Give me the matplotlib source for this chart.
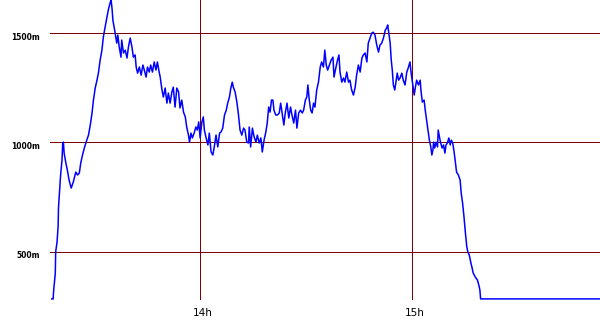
import matplotlib
matplotlib.use("Agg")
import matplotlib.pyplot as plt

# time in minutes after 13:00, elevation in metres
minutes = [18.0, 18.4, 18.5, 19.0, 19.1, 19.5, 19.8, 19.9, 20.2, 20.5, 20.9, 21.1, 21.3, 21.5,
           22.0, 22.4, 22.9, 23.5, 24.1, 24.8, 25.3, 25.8, 26.2, 26.7, 27.3, 27.9, 28.4, 28.9,
           29.4, 29.8, 30.3, 30.8, 31.2, 31.7, 32.2, 32.6, 33.1, 33.6, 34.0, 34.5, 34.8, 35.1,
           35.3, 35.7, 36.1, 36.4, 36.7, 37.1, 37.6, 37.8, 38.3, 38.8, 39.3, 39.7, 40.2, 40.7,
           41.1, 41.6, 41.9, 42.3, 42.8, 43.3, 43.8, 44.2, 44.7, 45.1, 45.6, 46.0, 46.5, 47.0,
           47.5, 47.9, 48.4, 48.7, 49.2, 49.6, 50.1, 50.6, 51.0, 51.5, 52.0, 52.4, 52.9, 53.4,
           53.9, 54.3, 54.8, 55.3, 55.8, 56.2, 56.7, 57.0, 57.4, 57.8, 58.3, 58.8, 59.2, 59.6,
           60.0, 60.5, 60.9, 61.2, 61.7, 62.2, 62.6, 63.1, 63.6, 64.0, 64.5, 65.0, 65.5, 65.9,
           66.4, 66.9, 67.4, 67.8, 68.3, 68.7, 69.1, 69.4, 69.9, 70.4, 70.8, 71.3, 71.8, 72.3,
           72.7, 73.2, 73.7, 73.9, 74.3, 74.8, 75.3, 75.8, 76.2, 76.7, 77.2, 77.6, 78.1, 78.6,
           79.0, 79.4, 79.8, 80.2, 80.6, 80.9, 81.4, 81.9, 82.4, 82.8, 83.2, 83.7, 84.1, 84.6,
           85.1, 85.6, 86.0, 86.5, 87.0, 87.4, 87.9, 88.4, 88.9, 89.3, 89.8, 90.2, 90.5, 90.9,
           91.3, 91.7, 92.1, 92.5, 93.0, 93.5, 94.0, 94.4, 94.9, 95.3, 95.7, 96.1, 96.6, 97.1,
           97.6, 97.9, 98.4, 98.9, 99.3, 99.6, 100.1, 100.6, 101.0, 101.5, 102.0, 102.4, 102.9,
           103.4, 103.9, 104.3, 104.8, 105.3, 105.8, 106.2, 106.7, 107.2, 107.6, 108.1, 108.6,
           109.0, 109.5, 110.0, 110.5, 110.9, 111.4, 111.9, 112.4, 112.8, 113.1, 113.4, 113.8,
           114.1, 114.4, 114.7, 115.1, 115.5, 115.8, 116.2, 116.6, 117.1, 117.5, 118.0, 118.5,
           118.9, 119.4, 119.7, 120.2, 120.6, 120.9, 121.3, 121.8, 122.3, 122.5, 122.9, 123.4,
           123.8, 124.2, 124.5, 124.9, 125.3, 125.6, 125.9, 126.1, 126.4, 126.8, 127.2, 127.4,
           127.8, 128.1, 128.5, 128.9, 129.3, 129.6, 130.0, 130.4, 130.8, 131.1, 131.5, 131.9,
           132.3, 132.6, 133.1, 133.6, 133.9, 134.3, 134.7, 135.1, 135.5, 135.8, 136.2, 136.6,
           137.0, 137.3, 137.9, 138.5, 138.9, 139.2, 139.4, 173.2]
elevation = [285, 285, 316, 403, 499, 545, 618, 700, 773, 851, 919, 997, 1001, 951,
             905, 874, 828, 791, 819, 864, 851, 860, 905, 942, 979, 1010, 1033, 1079,
             1134, 1193, 1248, 1284, 1316, 1376, 1421, 1481, 1526, 1568, 1604, 1636, 1650, 1604,
             1558, 1522, 1481, 1453, 1490, 1435, 1389, 1467, 1408, 1421, 1385, 1435, 1476, 1435,
             1389, 1399, 1344, 1316, 1344, 1307, 1353, 1330, 1298, 1344, 1321, 1353, 1321, 1367,
             1330, 1367, 1321, 1298, 1239, 1207, 1248, 1179, 1225, 1179, 1230, 1252, 1161, 1248,
             1230, 1157, 1193, 1138, 1116, 1070, 1033, 1001, 1042, 1020, 1042, 1070, 1056, 1093,
             1020, 1093, 1116, 1056, 1020, 988, 1042, 956, 942, 979, 1033, 979, 1042, 1047,
             1065, 1125, 1147, 1179, 1207, 1248, 1275, 1252, 1230, 1184, 1134, 1056, 1033, 1065,
             1056, 1001, 997, 1070, 979, 1065, 1024, 1001, 1033, 997, 1020, 956, 1010, 1047,
             1088, 1161, 1138, 1193, 1193, 1147, 1125, 1125, 1134, 1179, 1134, 1079, 1134, 1179,
             1111, 1161, 1125, 1088, 1147, 1065, 1134, 1147, 1134, 1147, 1193, 1207, 1262, 1193,
             1147, 1134, 1179, 1161, 1239, 1275, 1344, 1367, 1344, 1421, 1353, 1330, 1353, 1376,
             1389, 1298, 1339, 1376, 1399, 1321, 1275, 1294, 1275, 1321, 1275, 1284, 1239,
             1216, 1252, 1307, 1353, 1321, 1385, 1399, 1408, 1367, 1453, 1476, 1499,
             1503, 1490, 1444, 1412, 1444, 1453, 1476, 1512, 1522, 1536, 1499, 1453,
             1376, 1330, 1262, 1239, 1284, 1316, 1284, 1294, 1316, 1284, 1262, 1321,
             1339, 1367, 1321, 1262, 1216, 1248, 1284, 1262, 1284, 1239, 1184, 1193,
             1138, 1093, 1056, 1010, 979, 942, 965, 1001, 974, 1001, 979, 1056,
             1020, 997, 974, 988, 951, 988, 997, 1020, 988, 1010, 997, 956,
             905, 864, 851, 828, 769, 723, 659, 586, 522, 499, 485, 453,
             426, 403, 385, 371, 348, 325, 285, 285]

y_grid = [500, 1000, 1500]
y_labels = ["500m", "1000m", "1500m"]
x_grid = [60, 120]
x_labels = ["14h", "15h"]

fig = plt.figure(figsize=(6, 3.3), dpi=100)
ax = fig.add_axes([50 / 600, 30 / 330, 550 / 600, 300 / 330])
ax.set_xlim(17.5, 173.2)
ax.set_ylim(280, 1650)
for s in ax.spines.values():
    s.set_visible(False)
ax.set_xticks([])
ax.set_yticks([])

grid_col = "#800000"
for v in y_grid:
    ax.axhline(v, color=grid_col, lw=0.72, zorder=1, antialiased=False)
for v in x_grid:
    ax.axvline(v, color=grid_col, lw=0.72, zorder=1, antialiased=False)

ax.plot(minutes, elevation, color="#0000ff", lw=1.1, zorder=2)

for v, lab in zip(y_grid, y_labels):
    ax.annotate(lab, xy=(0, v), xycoords=("axes fraction", "data"),
                xytext=(-7, -3), textcoords="offset points",
                ha="right", va="center", fontsize=5.5, fontweight="bold",
                family="DejaVu Sans")
for v, lab in zip(x_grid, x_labels):
    ax.annotate(lab, xy=(v, 0), xycoords=("data", "axes fraction"),
                xytext=(2, -9.5), textcoords="offset points",
                ha="center", va="center", fontsize=7.5, family="DejaVu Sans")

fig.savefig("out.png", dpi=100, facecolor="white")
